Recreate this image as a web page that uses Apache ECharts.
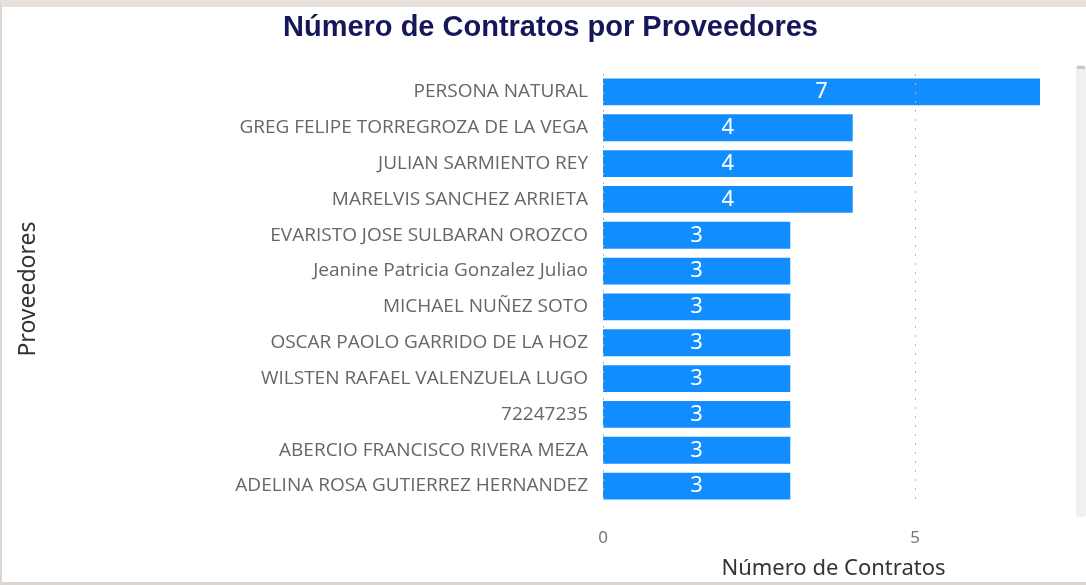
<!DOCTYPE html>
<html>
<head>
<meta charset="utf-8">
<script src="https://cdn.jsdelivr.net/npm/echarts@6/dist/echarts.min.js"></script>
<style>
	html, body { margin: 0; padding: 0; background: #fff; }
	#frame { position: relative; width: 1086px; height: 585px; box-sizing: border-box;
		border-top: 7px solid #e7e1dd; border-left: 2px solid #dcd6d2; border-bottom: 3px solid #dcd6d2; }
	#main { position: absolute; left: -2px; top: -7px; width: 1086px; height: 585px; }
	#scroll { position: absolute; left: 1074px; top: 58px; width: 10px; height: 452px; background: #f0f0f0; border-radius: 3px; }
	#thumb { position: absolute; left: 1075px; top: 59px; width: 8px; height: 3px; background: #c8c8c8; }
</style>
</head>
<body>
<div id="frame">
	<div id="main"></div>
	<div id="scroll"></div>
	<div id="thumb"></div>
</div>
<script>
	var proveedores = ['PERSONA NATURAL', 'GREG FELIPE TORREGROZA DE LA VEGA', 'JULIAN SARMIENTO REY',
		'MARELVIS SANCHEZ ARRIETA', 'EVARISTO JOSE SULBARAN OROZCO', 'Jeanine Patricia Gonzalez Juliao',
		'MICHAEL NUÑEZ SOTO', 'OSCAR PAOLO GARRIDO DE LA HOZ', 'WILSTEN RAFAEL VALENZUELA LUGO',
		'72247235', 'ABERCIO FRANCISCO RIVERA MEZA', 'ADELINA ROSA GUTIERREZ HERNANDEZ'];
	var contratos = [7, 4, 4, 4, 3, 3, 3, 3, 3, 3, 3, 3];
	var gridValues = [0, 5];

	var myChart = echarts.init(document.getElementById('main'));
	var option = {
		animation: false,
		title: {
			text: 'Número de Contratos por Proveedores',
			left: 278,
			top: 8,
			textStyle: {
				fontFamily: '"Liberation Sans", Arial, sans-serif',
				fontWeight: 'bold',
				fontSize: 29,
				color: '#14185a'
			}
		},
		grid: { left: 603, right: 46, top: 74, bottom: 79 },
		xAxis: {
			type: 'value',
			min: 0,
			max: 7,
			interval: 5,
			axisLine: { show: false },
			axisTick: { show: false },
			splitLine: { show: false },
			axisLabel: {
				showMaxLabel: false,
				margin: 26,
				fontSize: 17,
				color: '#777',
				fontFamily: '"Noto Sans", sans-serif'
			},
			name: 'Número de Contratos',
			nameLocation: 'middle',
			nameGap: 54,
			nameTextStyle: {
				fontSize: 22,
				color: '#333',
				fontFamily: '"Noto Sans", sans-serif',
				padding: [0, 0, 0, 24]
			}
		},
		yAxis: {
			type: 'category',
			inverse: true,
			data: proveedores,
			axisLine: { show: false },
			axisTick: { show: false },
			axisLabel: {
				margin: 15,
				fontSize: 19,
				color: '#666',
				padding: [4, 0, 0, 0],
				fontFamily: '"Open Sans", sans-serif'
			},
			name: 'Proveedores',
			nameLocation: 'middle',
			nameGap: 563,
			nameTextStyle: {
				fontSize: 23,
				color: '#333',
				fontFamily: '"Noto Sans", sans-serif'
			}
		},
		series: [{
			name: 'Número de Contratos',
			type: 'bar',
			data: contratos,
			barCategoryGap: '25%',
			itemStyle: { color: '#118dff' },
			label: {
				show: true,
				position: 'inside',
				color: '#fff',
				fontSize: 22,
				padding: [4, 0, 0, 0],
				fontFamily: '"Noto Sans", sans-serif'
			},
			markLine: {
				silent: true,
				symbol: 'none',
				label: { show: false },
				lineStyle: { color: '#b4b4b4', type: [2, 7], width: 1 },
				data: gridValues.map(function(v) { return { xAxis: v }; })
			},
			z: 3
		}]
	};
	myChart.setOption(option);
</script>
</body>
</html>
